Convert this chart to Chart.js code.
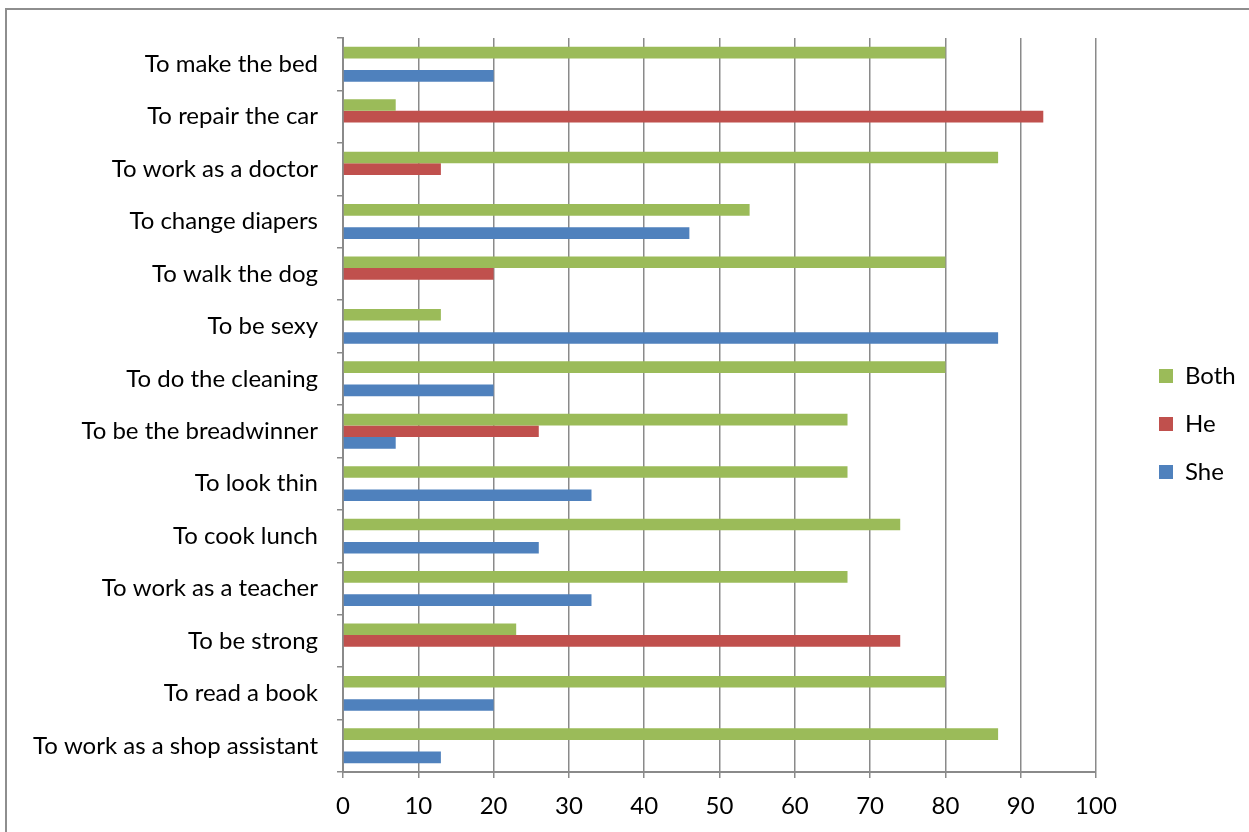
<!DOCTYPE html>
<html>
<head>
<meta charset="utf-8">
<script src="https://cdn.jsdelivr.net/npm/chart.js@4"></script>
<style>
  html, body { margin: 0; padding: 0; background: #fff; overflow: hidden; }
  #wrap { position: relative; width: 1249px; height: 832px; }
  #frame { position: absolute; left: 5px; top: 8px; width: 1300px; height: 900px; border: 2px solid #8e8e8e; }
  #chart { position: absolute; left: 0; top: 0; }
</style>
</head>
<body>
<div id="wrap">
  <div id="frame"></div>
  <canvas id="chart" width="1249" height="832"></canvas>
</div>
<script>
// ========== DATOS ==========
const categorias = [
    'To make the bed',
    'To repair the car',
    'To work as a doctor',
    'To change diapers',
    'To walk the dog',
    'To be sexy',
    'To do the cleaning',
    'To be the breadwinner',
    'To look thin',
    'To cook lunch',
    'To work as a teacher',
    'To be strong',
    'To read a book',
    'To work as a shop assistant'
];

const valoresBoth = [80, 7, 87, 54, 80, 13, 80, 67, 67, 74, 67, 23, 80, 87];
const valoresHe   = [0, 93, 13, 0, 20, 0, 0, 26, 0, 0, 0, 74, 0, 0];
const valoresShe  = [20, 0, 0, 46, 0, 87, 20, 7, 33, 26, 33, 0, 20, 13];

const ticksX = [0, 10, 20, 30, 40, 50, 60, 70, 80, 90, 100];

const colorBoth = '#9BBB59';
const colorHe = '#C0504D';
const colorShe = '#4F81BD';
const colorEje = '#8a8a8a';
const fuente = 'Lato, "Open Sans", sans-serif';
const tamFuente = 24;

// Ajuste de posiciones del layout (área del gráfico como en la referencia)
const layoutFix = {
    id: 'layoutFix',
    beforeInit(chart) {
        const legend = chart.legend;
        const fitOriginal = legend.fit.bind(legend);
        legend.fit = function () {
            fitOriginal();
            this.width = 1249 - 1096;
        };
    },
    afterLayout(chart) {
        const legend = chart.legend;
        const dx = 1135 - legend.left;
        legend.left += dx;
        legend.right += dx;
        legend.top -= 11;
        legend.bottom -= 11;
    }
};

const ctx = document.getElementById('chart').getContext('2d');

const grafico = new Chart(ctx, {
    type: 'bar',
    data: {
        labels: categorias,
        datasets: [
            { label: 'Both', data: valoresBoth, backgroundColor: colorBoth },
            { label: 'He', data: valoresHe, backgroundColor: colorHe },
            { label: 'She', data: valoresShe, backgroundColor: colorShe }
        ]
    },
    options: {
        indexAxis: 'y',
        responsive: false,
        animation: false,
        devicePixelRatio: 1,
        categoryPercentage: 0.665,
        barPercentage: 1,
        layout: {
            padding: { top: 38, bottom: 0, left: 0, right: 0 }
        },
        plugins: {
            legend: {
                position: 'right',
                labels: {
                    boxWidth: 14,
                    boxHeight: 14,
                    padding: 24,
                    color: '#000',
                    font: { family: fuente, size: tamFuente }
                }
            },
            tooltip: { enabled: false }
        },
        scales: {
            x: {
                min: 0,
                max: 100,
                afterFit: scale => { scale.height = 832 - 772; },
                afterBuildTicks: scale => {
                    scale.ticks = ticksX.map(v => ({ value: v }));
                },
                grid: {
                    color: colorEje,
                    lineWidth: 1.5,
                    tickLength: 6
                },
                border: { color: colorEje, width: 2 },
                ticks: {
                    color: '#000',
                    padding: 14,
                    font: { family: fuente, size: tamFuente }
                }
            },
            y: {
                afterFit: scale => { scale.width = 343; },
                grid: {
                    offset: true,
                    drawOnChartArea: false,
                    color: colorEje,
                    lineWidth: 1.5,
                    tickLength: 6
                },
                border: { color: colorEje, width: 2 },
                ticks: {
                    color: '#000',
                    padding: 19,
                    autoSkip: false,
                    font: { family: fuente, size: tamFuente }
                }
            }
        }
    },
    plugins: [layoutFix]
});
</script>
</body>
</html>
